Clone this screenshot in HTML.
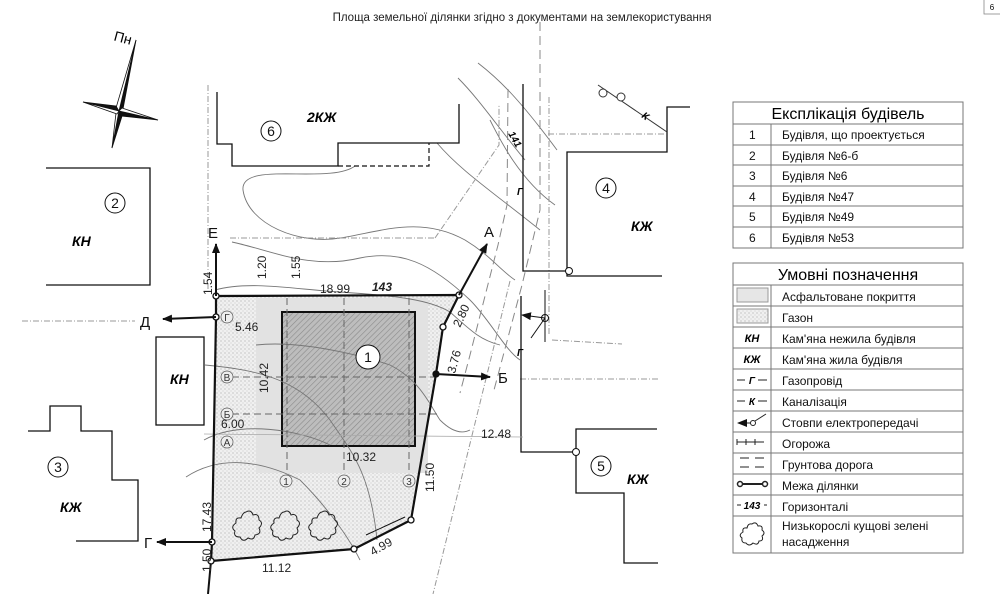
<!DOCTYPE html>
<html><head><meta charset="utf-8"><style>
html,body{margin:0;padding:0;background:#fff}
svg{display:block;font-family:"Liberation Sans",sans-serif}
.t{font-size:12px;fill:#111}
.bi{font-weight:bold;font-style:italic;font-size:14px}
.d{font-size:12px;fill:#222}
</style></head><body>
<svg width="1000" height="594" viewBox="0 0 1000 594" xmlns="http://www.w3.org/2000/svg">
<defs>
<pattern id="hatch" width="4" height="4" patternUnits="userSpaceOnUse" patternTransform="rotate(45)">
<rect width="4" height="4" fill="#bdbdbd"/><line x1="0" y1="0" x2="0" y2="4" stroke="#8a8a8a" stroke-width="1.2"/></pattern>
<pattern id="dots" width="4" height="4" patternUnits="userSpaceOnUse">
<rect width="4" height="4" fill="#f0f0f0"/><circle cx="1" cy="1" r="0.6" fill="#aaa"/><circle cx="3" cy="3" r="0.5" fill="#bbb"/></pattern>
<marker id="ar" markerWidth="10" markerHeight="8" refX="9" refY="4" orient="auto-start-reverse" markerUnits="userSpaceOnUse"><path d="M0,0 L10,4 L0,8 Z" fill="#111"/></marker>
</defs>
<rect width="1000" height="594" fill="#fff"/>
<text x="522" y="21" text-anchor="middle" font-size="11.5" fill="#222">Площа земельної ділянки згідно з документами на землекористування</text>
<rect x="984" y="-1" width="17" height="15" fill="none" stroke="#888" stroke-width="0.8"/>
<text x="992" y="10" font-size="8" text-anchor="middle">6</text>

<!-- compass -->
<g stroke="#111" stroke-width="0.8">
<polygon points="136,40 123,109 119,111" fill="#111"/>
<polygon points="136,40 119,111 116,108" fill="#fff"/>
<polygon points="112,148 119,111 123,113" fill="#111"/>
<polygon points="112,148 116,113 119,111" fill="#fff"/>
<polygon points="83,102 119,111 116,106" fill="#111"/>
<polygon points="83,102 117,114 119,111" fill="#fff"/>
<polygon points="158,120 119,111 121,116" fill="#111"/>
<polygon points="158,120 122,108 119,111" fill="#fff"/>
</g>
<text x="114" y="42" font-size="14" transform="rotate(15 120 38)">Пн</text>

<!-- gazon and asphalt -->
<polygon points="216,296 459,295 443,327 436,374 411,520 354,549 211,561 212,542 216,317" fill="url(#dots)"/>
<rect x="256" y="298" width="172" height="175" fill="#e2e2e2"/>
<rect x="282" y="312" width="133" height="134" fill="url(#hatch)" stroke="#111" stroke-width="2"/>

<!-- contours -->
<g fill="none" stroke="#777" stroke-width="0.9">
<path d="M355,166 C330,185 240,160 243,190 C248,225 300,245 340,238 C380,232 420,215 465,240 C490,255 500,270 515,280"/>
<path d="M232,242 C270,250 310,270 360,258 C400,250 430,262 470,300 C490,320 505,350 520,360"/>
<path d="M215,290 C250,280 300,290 340,292 C400,296 430,300 450,312 C470,330 480,340 500,345"/>
<path d="M256,345 C300,340 360,355 390,365 C420,380 430,405 440,420 C450,430 460,435 470,430"/>
<path d="M204,440 C240,420 300,430 330,445"/>
<path d="M205,365 C260,370 300,380 330,420 C350,450 370,470 377,540"/>
<path d="M186,477 C220,455 260,460 300,480 C320,500 345,530 360,560"/>
<path d="M478,63 C500,80 520,100 557,150"/>
<path d="M458,78 C480,100 500,130 525,160"/>
<path d="M437,143 C460,170 490,190 540,230"/>
<path d="M490,120 C500,140 520,180 555,205"/>
</g>

<!-- fences -->
<g stroke="#999" stroke-width="1" fill="none" stroke-dasharray="6,2,1,2">
<line x1="208" y1="85" x2="208" y2="292"/>
<line x1="230" y1="238" x2="435" y2="238"/>
<path d="M435,238 L499,145 L499,104"/>
<line x1="548" y1="134" x2="665" y2="134"/>
<line x1="549" y1="97" x2="549" y2="335"/>
<line x1="22" y1="321" x2="135" y2="321"/>
<line x1="520" y1="379" x2="658" y2="379"/>
<line x1="552" y1="340" x2="622" y2="344"/>
<path d="M510,281 L433,594"/>
</g>
<!-- roads -->
<g stroke="#888" stroke-width="1" fill="none" stroke-dasharray="9,5">
<path d="M508,89 L507,205 L498,245 L470,355 L460,393"/>
<path d="M540,22 L540,210 L522,285 L494,390"/>
</g>

<!-- buildings -->
<g fill="none" stroke="#111" stroke-width="1.3">
<polyline points="217,92 217,144 232,144 232,166 338,166 338,143 459,143 459,104"/>
<polyline points="46,168 150,168 150,285 46,285"/>
<polyline points="28,431 50,431 50,406 81,406 81,431 112,431 112,480 138,480 138,541 76,541"/>
<rect x="156" y="337" width="48" height="88"/>
<polyline points="690,107 667,107 667,152 567,152 567,276 662,276"/>
<polyline points="657,429 576,429 576,493 624,493 624,563 658,563"/>
<polyline points="523,84 523,271 569,271"/>
<polyline points="521,296 521,452 578,452"/>
</g>
<path d="M338,166 L429,166 L429,143" fill="none" stroke="#111" stroke-width="1.2" stroke-dasharray="5,3"/>
<circle cx="569" cy="271" r="3.5" fill="#fff" stroke="#111"/>
<circle cx="576" cy="452" r="3.5" fill="#fff" stroke="#111"/>
<!-- power line top right -->
<line x1="598" y1="85" x2="667" y2="132" stroke="#333" stroke-width="1"/>
<circle cx="603" cy="93" r="4" fill="#fff" stroke="#333"/><circle cx="621" cy="97" r="4" fill="#fff" stroke="#333"/>
<text x="641" y="117" font-size="10" font-style="italic" font-weight="bold" transform="rotate(35 641 117)">К</text>
<text x="517" y="356" font-size="10" font-weight="bold" font-style="italic">Г</text>
<text x="517" y="195" font-size="10" font-weight="bold" font-style="italic">Г</text>
<text x="505" y="139" font-size="10" font-weight="bold" font-style="italic" transform="rotate(60 511 139)">141</text>
<!-- pole near Б -->
<g stroke="#111" stroke-width="1" fill="none">
<circle cx="545" cy="318" r="3.5"/>
<line x1="545" y1="318" x2="522" y2="315" marker-end="url(#ar)"/>
<line x1="545" y1="318" x2="545" y2="290"/>
<line x1="545" y1="318" x2="545" y2="342"/>
<line x1="545" y1="318" x2="531" y2="338"/>
</g>

<!-- axes -->
<g stroke="#666" stroke-width="1" stroke-dasharray="7,4" fill="none">
<line x1="287" y1="298" x2="287" y2="474"/><line x1="344" y1="298" x2="344" y2="474"/><line x1="409" y1="298" x2="409" y2="474"/>
<line x1="232" y1="377" x2="440" y2="377"/><line x1="232" y1="414" x2="440" y2="414"/>
</g>
<line x1="204" y1="434" x2="523" y2="437" stroke="#aaa" stroke-width="0.8"/>
<g font-size="10" fill="#333" text-anchor="middle" stroke="#555" stroke-width="0.7">
<circle cx="227" cy="317" r="6" fill="#eee"/><circle cx="227" cy="377" r="6" fill="#eee"/><circle cx="227" cy="414" r="6" fill="#eee"/><circle cx="227" cy="442" r="6" fill="#eee"/>
<circle cx="286" cy="481" r="6" fill="#eee"/><circle cx="344" cy="481" r="6" fill="#eee"/><circle cx="409" cy="481" r="6" fill="#eee"/>
</g>
<g font-size="10" fill="#333" text-anchor="middle">
<text x="227" y="321">Г</text><text x="227" y="381">В</text><text x="227" y="418">Б</text><text x="227" y="446">А</text>
<text x="286" y="485">1</text><text x="344" y="485">2</text><text x="409" y="485">3</text>
</g>

<!-- boundary -->
<polygon points="216,296 459,295 443,327 436,374 411,520 354,549 211,561 212,542 216,317" fill="none" stroke="#111" stroke-width="2.2"/>
<line x1="211" y1="561" x2="208" y2="594" stroke="#111" stroke-width="2"/>
<g fill="#fff" stroke="#111" stroke-width="1.3">
<circle cx="216" cy="296" r="3"/><circle cx="459" cy="295" r="3"/><circle cx="443" cy="327" r="3"/><circle cx="436" cy="374" r="3" fill="#111"/><circle cx="411" cy="520" r="3"/><circle cx="354" cy="549" r="3"/><circle cx="211" cy="561" r="3"/><circle cx="212" cy="542" r="3"/><circle cx="216" cy="317" r="3"/>
</g>
<!-- shrubs -->
<g fill="none" stroke="#222" stroke-width="1">
<path id="sh" d="M246,512 q5,-3 7,3 q6,-2 6,5 q5,3 0,8 q3,6 -4,7 q-1,6 -7,3 q-5,5 -8,-1 q-7,0 -5,-6 q-5,-4 1,-8 q-1,-6 5,-5 q2,-6 5,-6z"/>
<use href="#sh" x="38"/><use href="#sh" x="76"/>
</g>
<!-- section arrows -->
<g stroke="#111" stroke-width="2" fill="none">
<line x1="216" y1="296" x2="216" y2="244" marker-end="url(#ar)"/>
<line x1="459" y1="295" x2="487" y2="244" marker-end="url(#ar)"/>
<line x1="216" y1="317" x2="163" y2="319" marker-end="url(#ar)"/>
<line x1="436" y1="374" x2="490" y2="377" marker-end="url(#ar)"/>
<line x1="212" y1="542" x2="157" y2="542" marker-end="url(#ar)"/>
</g>
<line x1="366" y1="535" x2="405" y2="517" stroke="#111" stroke-width="1"/>
<g font-size="15" fill="#111">
<text x="208" y="238">Е</text><text x="484" y="237">А</text><text x="140" y="327">Д</text><text x="498" y="383">Б</text><text x="144" y="548">Г</text>
</g>
<!-- dims -->
<g class="d">
<text x="320" y="293">18.99</text>
<text x="372" y="291" font-weight="bold" font-style="italic">143</text>
<text x="235" y="331">5.46</text>
<text x="221" y="428">6.00</text>
<text x="481" y="438">12.48</text>
<text x="346" y="461">10.32</text>
<text x="262" y="572">11.12</text>
<text transform="translate(212,295) rotate(-90)">1.54</text>
<text transform="translate(266,279) rotate(-90)">1.20</text>
<text transform="translate(300,279) rotate(-90)">1.55</text>
<text transform="translate(268,393) rotate(-90)">10.42</text>
<text transform="translate(211,532) rotate(-90)">17.43</text>
<text transform="translate(211,572) rotate(-90)">1.50</text>
<text transform="translate(434,492) rotate(-90)">11.50</text>
<text transform="translate(460,328) rotate(-65)">2.80</text>
<text transform="translate(455,374) rotate(-75)">3.76</text>
<text transform="translate(373,556) rotate(-30)">4.99</text>
</g>
<!-- building labels -->
<g class="bi">
<text x="307" y="122">2КЖ</text><text x="72" y="246">КН</text><text x="60" y="512">КЖ</text><text x="631" y="231">КЖ</text><text x="627" y="484">КЖ</text><text x="170" y="384">КН</text>
</g>
<g fill="#fff" stroke="#111" stroke-width="1">
<circle cx="271" cy="131" r="10"/><circle cx="115" cy="203" r="10"/><circle cx="606" cy="188" r="10"/><circle cx="58" cy="467" r="10"/><circle cx="601" cy="466" r="10"/><circle cx="368" cy="357" r="12"/>
</g>
<g font-size="14" text-anchor="middle" fill="#111">
<text x="271" y="136">6</text><text x="115" y="208">2</text><text x="606" y="193">4</text><text x="58" y="472">3</text><text x="601" y="471">5</text><text x="368" y="362">1</text>
</g>

<!-- table 1 -->
<g stroke="#777" stroke-width="1" fill="none">
<rect x="733" y="102" width="230" height="146"/>
<line x1="733" y1="124" x2="963" y2="124"/><line x1="733" y1="145" x2="963" y2="145"/><line x1="733" y1="165" x2="963" y2="165"/><line x1="733" y1="186" x2="963" y2="186"/><line x1="733" y1="206" x2="963" y2="206"/><line x1="733" y1="227" x2="963" y2="227"/>
<line x1="771" y1="124" x2="771" y2="248"/>
</g>
<text x="848" y="119" font-size="16" text-anchor="middle">Експлікація будівель</text>
<g class="t"><text x="749" y="139">1</text><text x="749" y="160">2</text><text x="749" y="180">3</text><text x="749" y="201">4</text><text x="749" y="221">5</text><text x="749" y="242">6</text>
<text x="782" y="139">Будівля, що проектується</text><text x="782" y="160">Будівля №6-б</text><text x="782" y="180">Будівля №6</text><text x="782" y="201">Будівля №47</text><text x="782" y="221">Будівля №49</text><text x="782" y="242">Будівля №53</text></g>

<!-- table 2 -->
<g stroke="#777" stroke-width="1" fill="none">
<rect x="733" y="263" width="230" height="290"/>
<line x1="733" y1="285" x2="963" y2="285"/><line x1="733" y1="306" x2="963" y2="306"/><line x1="733" y1="327" x2="963" y2="327"/><line x1="733" y1="348" x2="963" y2="348"/><line x1="733" y1="369" x2="963" y2="369"/><line x1="733" y1="390" x2="963" y2="390"/><line x1="733" y1="411" x2="963" y2="411"/><line x1="733" y1="432" x2="963" y2="432"/><line x1="733" y1="453" x2="963" y2="453"/><line x1="733" y1="474" x2="963" y2="474"/><line x1="733" y1="495" x2="963" y2="495"/><line x1="733" y1="516" x2="963" y2="516"/>
<line x1="771" y1="285" x2="771" y2="553"/>
</g>
<text x="848" y="280" font-size="16" text-anchor="middle">Умовні позначення</text>
<rect x="737" y="288" width="31" height="14" fill="#e6e6e6" stroke="#999"/>
<rect x="737" y="309" width="31" height="14" fill="url(#dots)" stroke="#999"/>
<g font-size="11" font-weight="bold" font-style="italic" text-anchor="middle"><text x="752" y="342">КН</text><text x="752" y="363">КЖ</text></g>
<g stroke="#222" stroke-width="1" fill="none">
<line x1="737" y1="380" x2="745" y2="380"/><line x1="758" y1="380" x2="767" y2="380"/>
<line x1="737" y1="401" x2="745" y2="401"/><line x1="758" y1="401" x2="767" y2="401"/>
<line x1="750" y1="423" x2="738" y2="423" marker-end="url(#ar)"/><circle cx="753" cy="423" r="2.5"/><line x1="755" y1="421" x2="766" y2="414"/>
<path d="M737,439 v6 M737,442 h9 M746,439 v6 M746,442 h9 M755,439 v6 M755,442 h9"/>
<path d="M740,458 h9 M755,458 h9 M740,467 h9 M755,467 h9"/>
<line x1="740" y1="484" x2="765" y2="484" stroke-width="2"/><circle cx="740" cy="484" r="2.5" fill="#fff" stroke-width="1.5"/><circle cx="765" cy="484" r="2.5" fill="#fff" stroke-width="1.5"/>
<path d="M752,524 q4,-3 6,2 q5,-1 4,4 q4,3 0,6 q2,5 -3,5 q-1,5 -6,2 q-4,4 -7,0 q-5,0 -4,-5 q-4,-3 1,-6 q-1,-5 4,-4 q1,-5 5,-4z"/>
</g>
<g font-size="10" font-weight="bold" font-style="italic" text-anchor="middle"><text x="752" y="384">Г</text><text x="752" y="405">К</text><text x="752" y="509">143</text></g>
<line x1="737" y1="505" x2="741" y2="505" stroke="#222"/><line x1="764" y1="505" x2="767" y2="505" stroke="#222"/>
<g class="t"><text x="782" y="301">Асфальтоване покриття</text><text x="782" y="322">Газон</text><text x="782" y="343">Кам'яна нежила будівля</text><text x="782" y="364">Кам'яна жила будівля</text><text x="782" y="385">Газопровід</text><text x="782" y="406">Каналізація</text><text x="782" y="427">Стовпи електропередачі</text><text x="782" y="448">Огорожа</text><text x="782" y="469">Грунтова дорога</text><text x="782" y="490">Межа ділянки</text><text x="782" y="511">Горизонталі</text><text x="782" y="530">Низькорослі кущові зелені</text><text x="782" y="546">насадження</text></g>
</svg>
</body></html>
